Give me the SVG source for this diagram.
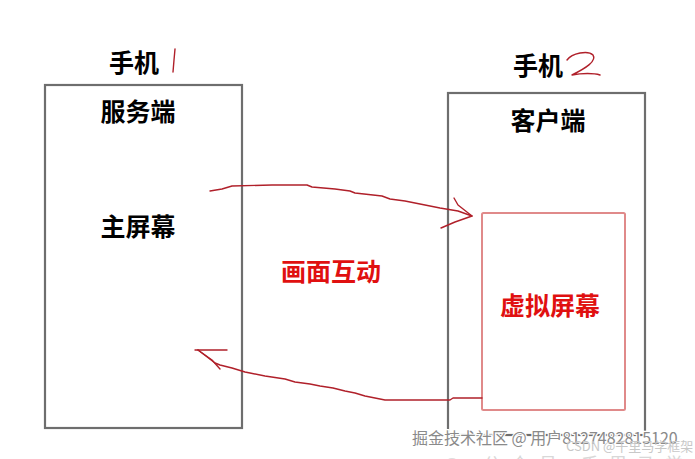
<svg xmlns="http://www.w3.org/2000/svg" width="695" height="459" viewBox="0 0 695 459">
<style>
.box{fill:none;stroke:#6e6e6e;stroke-width:2.2}
.vbox{fill:none;stroke:#e08a8a;stroke-width:2}
.t{font-family:"Noto Sans CJK SC","Liberation Sans",sans-serif;font-weight:bold;font-size:25px;fill:#000;text-anchor:middle}
.r{fill:#e01010}
.ink{fill:none;stroke:#b0202a;stroke-width:1.4;stroke-linecap:round;stroke-linejoin:round}
.wm{font-family:"Noto Sans CJK SC","Liberation Sans",sans-serif;font-size:16px;fill:#8a8a8a;stroke:#ffffff;stroke-width:2.5;paint-order:stroke}
</style>
<rect width="695" height="459" fill="#ffffff"/>
<g id="phone1">
<rect class="box" x="45" y="85" width="197" height="343"/>
<text class="t" x="134" y="72">手机</text>
<path class="ink" d="M175 49 L174 60 L173 72"/>
<text class="t" x="138" y="121" font-size="26">服务端</text>
<text class="t" x="138" y="236" font-size="26">主屏幕</text>
</g>
<g id="phone2">
<rect class="box" x="448" y="93" width="197" height="342"/>
<text class="t" x="538" y="75">手机</text>
<path class="ink" d="M567 60 C572 53 588 50 593 55 C597 61 586 68 572 75 C582 73 594 73 600 75"/>
<text class="t" x="548" y="130" font-size="26">客户端</text>
</g>
<g id="virtual">
<rect class="vbox" x="482" y="213" width="143" height="197" rx="1.5"/>
<text class="t r" x="550" y="315" font-size="26">虚拟屏幕</text>
</g>
<g id="label">
<text class="t r" x="331" y="281" font-size="26">画面互动</text>
</g>
<g id="connectors">
<path class="ink" d="M210 191 L222 189 L232 186 L272 185 L307 185 L312 187 L335 189 L350 191 L355 193 L382 196 L390 199 L405 201 L420 204 L440 208 L458 211 L472 216"/>
<path class="ink" d="M454 198 L458 205 L472 216 L455 222 L441 228"/>
<path class="ink" d="M482 398 L453 398 L450 400 L385 400 L375 398 L365 396 L355 393 L345 391 L333 388 L320 386 L310 384 L295 382 L285 379 L265 376 L250 373 L245 372 L232 368 L220 365 L215 363 L198 350"/>
<path class="ink" d="M195 350 L227 350"/>
<path class="ink" d="M198 350 L212 360 L220 369"/>
</g>
<text class="wm" x="412" y="444">掘金技术社区 @ 用户8127482815120</text>
<text x="566" y="451" font-family="'Noto Sans CJK SC','Liberation Sans',sans-serif" font-size="13" fill="#c8c8c8">CSDN @千里马学框架</text>
<circle cx="452" cy="466" r="8" fill="#dddddd"/>
<text x="483" y="471" font-family="'Noto Sans CJK SC','Liberation Sans',sans-serif" font-size="18" fill="#d8d8d8" letter-spacing="10">公众号 千里马学框架</text>
</svg>
